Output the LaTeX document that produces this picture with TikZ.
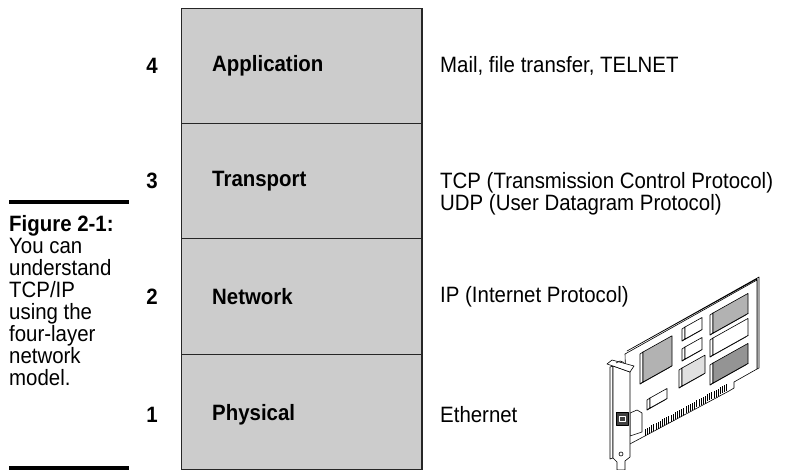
\documentclass[tikz,border=0pt]{standalone}
\usepackage{fontspec}
\setmainfont[FakeStretch=0.92]{Liberation Sans}
\usetikzlibrary{positioning}

\newcommand{\layerfont}{\fontsize{22.2}{22}\selectfont}

% one chip on the card: #1 top left corner, #2 width, #3 height, #4 fill
\newcommand{\chip}[4]{

\begin{scope}[shift={#1}]
	\filldraw[cardline,fill=white] (0,0) -- (-3,2) -- (-3,#3+2) -- (0,#3) -- cycle;
	\filldraw[cardline,fill=white] (0,#3) -- (-3,#3+2) -- (#2-3,#3+2-0.56*#2) -- (#2,#3-0.56*#2) -- cycle;
	\filldraw[cardline,fill=#4] (0,0) -- (#2,-0.56*#2) -- (#2,#3-0.56*#2) -- (0,#3) -- cycle;
\end{scope}

}

\begin{document}
\begin{tikzpicture}[x=1pt,y=-1pt,
	layerbox/.style={draw=black!85, line width=0.9pt, fill=black!20, minimum width=241pt, minimum height=115.3pt, inner sep=0pt, outer sep=0pt},
	layernum/.style={font=\layerfont\bfseries, inner sep=0pt},
	layername/.style={font=\layerfont\bfseries, inner sep=0pt},
	layerinfo/.style={font=\layerfont, align=left, inner sep=0pt},
	figcaption/.style={font=\layerfont, align=left, anchor=north west, inner sep=0pt},
	capline/.style={line width=4.3pt},
	cardline/.style={line width=0.6pt, line join=round}
]

	\useasboundingbox (0,0) rectangle (786,470);

	% caption with its two rules
	\draw[capline] (9,202) -- (129,202);
	\node[figcaption] (cap) at (9,215) {\textbf{Figure 2-1:}\\You can\\understand\\TCP/IP\\using the\\four-layer\\network\\model.};
	\draw[capline] (9,468) -- (129,468);

	% the four layers
	\node[layerbox] (app) at (301.5,65.7) {};
	\node[layerbox, below=0pt of app] (trans) {};
	\node[layerbox, below=0pt of trans] (net) {};
	\node[layerbox, below=0pt of net] (phys) {};
	\draw[line width=2pt, black!85] (app.north east) -- (phys.south east);

	\node[layernum, left=23pt of app.west] (appnum) {4};
	\node[layernum, left=23pt of trans.west] (transnum) {3};
	\node[layernum, left=23pt of net.west] (netnum) {2};
	\node[layernum, left=23pt of phys.west, yshift=-3pt] (physnum) {1};

	\node[layername, right=31pt of app.west] (appname) {Application};
	\node[layername, right=31pt of trans.west] (transname) {Transport};
	\node[layername, right=31pt of net.west] (netname) {Network};
	\node[layername, right=31pt of phys.west, yshift=-3pt] (physname) {Physical};

	\node[layerinfo, right=18pt of app.east] (appinfo) {Mail, file transfer, TELNET};
	\node[layerinfo, right=18pt of trans.east, yshift=-13pt] (transinfo) {TCP (Transmission Control Protocol)\\UDP (User Datagram Protocol)};
	\node[layerinfo, right=18pt of net.east] (netinfo) {IP (Internet Protocol)};
	\node[layerinfo, right=18pt of phys.east, yshift=-3pt] (physinfo) {Ethernet};

	% network card
	\filldraw[cardline,fill=white] (627,351) -- (759,277) -- (759,368) -- (757,369) -- (757,279) -- cycle;
	\filldraw[cardline,fill=white] (625,354) -- (757,280) -- (757,369) -- (734,382) -- (734,388) -- (729,391) -- (643,437) -- (628,445) -- cycle;
	\foreach \i in {0,...,38}
		\draw[line width=0.5pt] (645+2.15*\i,436-1.19*\i) -- ++(0,-7);
		; %end for \i

	\chip{(643,352)}{29}{30}{black!30}
	\chip{(650,398)}{17}{10}{white}
	\chip{(685,327)}{17}{12}{white}
	\chip{(685,347)}{17}{12}{white}
	\chip{(682,368)}{23}{18}{black!12}
	\chip{(713,313)}{35}{20}{black!30}
	\chip{(713,338)}{35}{17}{white}
	\chip{(713,363)}{35}{20}{black!42}

	% bracket
	\filldraw[cardline,fill=white] (630,413) -- (637,410) -- (642,413) -- (642,432) -- (630,436) -- cycle;
	\filldraw[cardline,fill=white] (613,366) -- (610,367) -- (610,459) -- (613,458) -- cycle;
	\filldraw[cardline,fill=white] (613,366) -- (630,372) -- (630,457) -- (625,461) -- (625,470) -- (617,470) -- (617,462) -- (613,458) -- cycle;
	\filldraw[cardline,fill=white] (607,364) -- (612,360) -- (634,366) -- (630,372) -- (613,366) -- cycle;
	\draw[cardline] (616,363) -- (620,361) -- (624,362.5);
	\filldraw[cardline,fill=black!75] (616,412) rectangle (628,425);
	\draw[cardline,white] (619,416) rectangle (625,421);
	\draw[cardline] (621,454) circle (2);

\end{tikzpicture}
\end{document}
